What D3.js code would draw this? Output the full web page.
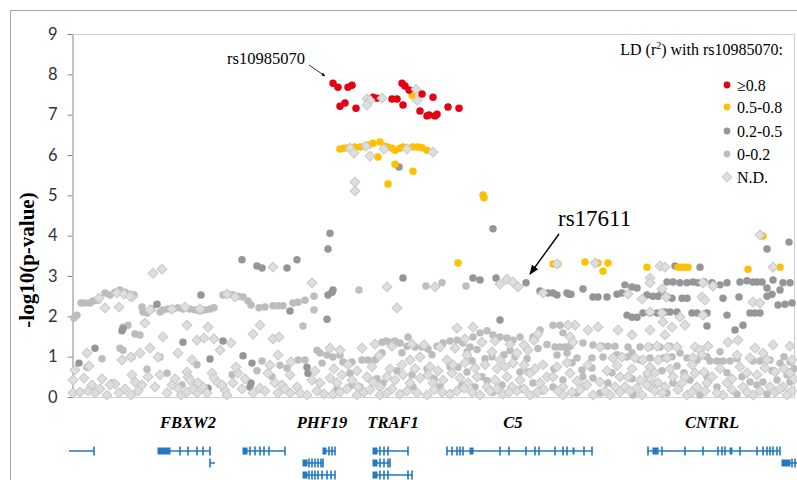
<!DOCTYPE html>
<html><head><meta charset="utf-8">
<script src="https://cdn.jsdelivr.net/npm/d3@7"></script>
<style>body{margin:0;background:#fff}</style>
</head><body>
<svg id="c" width="797" height="480"></svg>
<script>
// positions in kb (relative), values = -log10(p)
const yTicks = [0,1,2,3,4,5,6,7,8,9];
const legendLabels = ["\u22650.8","0.5-0.8","0.2-0.5","0-0.2","N.D."];

const ld08 = [[261,7.78],[266,7.68],[276,7.68],[280,7.73],[301,7.43],[305,7.41],[268,7.21],[273,7.29],[284,7.16],[320,7.39],[325,7.39],[331,7.24],[330,7.78],[333,7.71],[337,7.61],[350,7.51],[361,7.43],[348,7.09],[355,6.97],[357,6.99],[363,6.97],[365,7.01],[376,7.19],[387,7.16]];

const ld0508 = [[268,6.15],[272,6.17],[276,6.18],[281,6.16],[283,6.20],[288,6.20],[293,6.22],[297,6.25],[301,6.29],[308,6.32],[313,6.22],[316,6.19],[320,6.17],[323,6.12],[328,6.17],[331,6.20],[335,6.18],[341,6.20],[346,6.20],[350,6.18],[355,6.12],[306,5.95],[323,5.77],[341,5.60],[316,5.28],[340,7.48],[411,5.01],[412,4.94],[386,3.32],[481,3.30],[486,3.30],[513,3.35],[526,3.32],[531,3.12],[536,3.32],[575,3.22],[606,3.22],[610,3.22],[613,3.22],[616,3.22],[676,3.17],[708,3.22],[691,3.99]];

const ld0205 = [[327,5.70],[258,4.06],[256,3.67],[421,4.17],[170,3.40],[185,3.25],[190,3.20],[215,3.20],[225,3.40],[331,2.95],[401,2.95],[408,2.90],[424,2.95],[454,2.83],[129,2.53],[218,2.13],[85,2.30],[50,1.64],[51,1.69],[23,1.21],[138,0.94],[151,1.39],[111,1.36],[171,1.02],[180,0.84],[179,0.35],[178,0.25],[136,0.22],[7,0.84],[235,0.74],[236,0.59],[255,1.93],[428,1.91],[256,2.53],[260,2.60],[261,2.65],[468,2.63],[476,2.58],[481,2.58],[485,2.53],[495,2.58],[497,2.55],[499,2.55],[511,2.68],[521,2.48],[526,2.48],[535,2.48],[545,2.55],[550,2.58],[553,2.78],[560,2.73],[565,2.70],[575,2.53],[581,2.50],[586,2.50],[595,2.85],[601,2.85],[608,2.83],[615,2.83],[621,2.85],[626,2.83],[595,2.48],[600,2.45],[610,2.45],[615,2.45],[628,3.22],[603,3.25],[648,2.78],[655,2.83],[668,2.85],[681,2.85],[685,2.85],[701,2.90],[711,2.83],[718,2.83],[695,2.70],[700,2.55],[708,2.65],[651,2.45],[667,2.48],[695,2.50],[706,2.28],[713,2.30],[720,2.33],[717,3.84],[695,3.67],[555,2.03],[560,1.98],[565,1.98],[571,2.08],[578,2.08],[585,2.08],[593,2.11],[598,2.11],[605,2.11],[620,2.08],[625,2.08],[635,2.08],[655,2.03],[678,2.08],[683,2.08],[688,2.08],[635,1.76],[663,1.66],[671,1.78],[590,2.60],[632,2.85],[640,2.83],[675,2.88],[690,2.85]];

const ld002 = [[2,1.96],[5,2.03],[9,2.33],[13,2.33],[18,2.33],[21,2.38],[26,2.40],[33,2.58],[38,2.53],[43,2.60],[48,2.65],[53,2.60],[58,2.55],[62,2.53],[70,2.23],[71,2.11],[75,2.08],[80,2.18],[88,2.11],[91,2.16],[96,2.18],[101,2.18],[106,2.21],[111,2.18],[118,2.18],[123,2.16],[128,2.13],[133,2.16],[138,2.18],[142,2.21],[151,2.53],[156,2.55],[161,2.53],[166,2.50],[171,2.48],[176,2.38],[179,2.28],[187,2.21],[193,2.23],[201,2.26],[206,2.26],[211,2.26],[221,2.33],[226,2.35],[233,2.40],[242,2.50],[242,2.16],[287,2.65],[354,2.75],[370,2.83],[394,2.75],
[51,1.73],[56,1.78],[63,1.56],[68,1.54],[48,1.21],[51,1.16],[60,0.99],[15,0.74],[75,0.69],[95,0.59],[88,0.99],[190,0.89],[208,0.79],[215,0.72],[226,0.92],[231,1.76],
[336,1.49],[310,1.09],[290,0.92],[296,0.92],[303,0.92],[250,0.84],[278,0.59],[386,0.74],[410,0.50],[456,0.62],
[310,1.36],[314,1.39],[318,1.36],[323,1.39],[328,1.34],[335,1.26],[343,1.24],[350,1.24],[356,1.19],[365,1.26],[371,1.34],[378,1.39],[385,1.41],[391,1.34],[398,1.24],[408,1.59],[415,1.64],[421,1.54],[428,1.49],[435,1.46],[441,1.41],[448,1.49],[461,1.49],[468,1.66],[401,1.49],[245,1.16],[248,1.09],[255,1.04],[261,0.99],[268,1.04],[271,0.87],[280,0.87],[233,0.92],
[288,0.25],[311,0.35],[341,0.25],[368,0.25],[395,0.62],[403,0.25],[421,0.12],[448,0.62],[461,0.35],
[481,1.78],[488,1.78],[491,1.59],[483,1.24],[488,1.24],[493,1.24],[498,1.26],[511,1.34],[521,1.29],[530,1.26],[536,1.26],[543,1.26],[556,1.24],[568,1.24],[578,1.24],[588,1.24],[598,1.26],[608,1.09],[615,0.97],[625,0.92],[638,0.89],[645,0.89],[651,0.89],[658,0.89],[648,1.12],[485,1.04],[495,1.09],[505,0.97],[520,0.97],[531,0.99],[555,0.99],[568,0.92],[578,0.97],[591,0.97],[605,0.77],[681,0.89],[688,0.89],[698,0.92],[708,0.84],[718,0.87],[510,0.67],[520,0.72],[511,0.50],[521,0.47],[491,0.42],[536,0.35],[585,0.35],[601,0.35],[618,0.42],[645,0.25],[678,0.37],[691,0.37],[705,0.42],[718,0.37],[481,0.25],[505,0.10],[528,0.10],[561,0.05],[595,0.10],[628,0.05],[665,0.07],[695,0.07],
[420,1.00],[432,1.05],[443,1.00],[455,0.95],[413,0.95],[400,0.90],[378,0.75],[355,0.70],[325,0.65],[305,0.45],[280,0.30],[265,0.20],[340,0.55],[362,0.45],[390,0.30],[415,0.40],[430,0.30],[450,0.20],[470,0.15],[482,0.70],[500,0.85],[540,0.60],[560,0.45],[575,0.55],[590,0.65],[612,0.60],[635,0.50],[655,0.60],[670,0.50],[685,0.30],[700,0.65],[715,0.55],[722,0.70],[40,0.35],[110,0.30],[160,0.55],[185,0.65],[200,0.50],[125,0.80],[30,0.95],[395,1.12],[405,1.18],[438,1.15],[466,1.20],[475,1.30],[330,1.10],[360,1.05],[545,1.05],[560,1.10],[600,1.00],[635,1.00],[665,0.95],[712,1.00]];

const ldND = [[295,7.39],[298,7.36],[295,7.24],[310,7.41],[344,7.63],[345,7.36],[278,6.17],[282,6.05],[294,6.22],[298,5.97],[312,6.15],[335,6.15],[361,6.07],[283,5.33],[283,5.11],
[81,3.07],[90,3.17],[201,3.22],[33,2.21],[47,2.23],[60,2.48],[45,2.58],[52,2.55],[27,2.45],[58,2.50],[78,2.16],[100,2.18],[113,2.23],[128,2.18],[155,2.55],[163,2.48],[73,1.83],[115,1.78],[136,1.73],[125,1.41],[132,1.46],[142,1.44],[91,1.49],[78,1.21],[50,0.92],[59,0.99],[68,1.09],[86,0.99],[106,1.09],[120,0.92],[148,1.16],[159,1.34],[181,1.56],[188,1.78],[201,1.44],[207,1.49],[206,1.04],[198,0.79],[219,0.87],[15,1.09],[17,0.77],[1,0.42],[3,0.67],[12,0.47],[43,0.32],[60,0.55],[63,0.37],[76,0.50],[88,0.55],[115,0.62],[116,0.50],[118,0.42],[140,0.59],[142,0.47],[146,0.35],[161,0.35],[166,0.59],[164,0.74],[196,0.59],[203,0.35],[218,0.55],[225,0.25],[131,0.25],
[1,0.10],[8,0.12],[16,0.15],[23,0.10],[38,0.30],[47,0.10],[59,0.05],[95,0.10],[106,0.22],[109,0.05],[115,0.12],[125,0.10],[135,0.10],[153,0.17],[155,0.05],[181,0.10],[188,0.22],[206,0.10],[218,0.10],[35,0.05],
[240,2.83],[315,2.73],[325,2.21],[363,2.73],[435,2.92],[441,2.85],[446,2.73],[428,2.80],[471,2.58],[385,1.71],[401,1.73],[240,0.42],[248,0.35],[258,0.47],[265,0.35],[270,0.55],[280,0.42],[286,0.25],[295,0.50],[301,0.37],[308,0.25],[315,0.50],[323,0.42],[331,0.55],[338,0.35],[348,0.47],[356,0.55],[361,0.35],[371,0.42],[380,0.59],[388,0.47],[396,0.35],[405,0.50],[415,0.25],[423,0.42],[435,0.50],[440,0.25],[448,0.42],[458,0.59],[468,0.35],[475,0.50],[428,0.92],[441,0.84],[338,0.92],[348,0.99],[375,0.92],[235,0.05],[261,0.07],[285,0.05],[308,0.05],[328,0.07],[355,0.05],[378,0.07],[408,0.05],[431,0.07],[458,0.05],
[258,1.21],[268,1.16],[290,1.21],[303,1.31],[320,1.26],[340,1.31],[352,1.29],[368,1.24],[383,1.21],[393,1.44],[410,1.36],[423,1.39],[438,1.31],[452,1.29],[462,1.41],[466,1.56],[445,1.09],[456,1.16],[420,1.12],[395,1.04],[307,1.02],
[485,3.30],[523,3.32],[688,4.02],[578,2.95],[588,3.25],[593,3.22],[701,3.22],[631,2.83],[641,2.75],[578,2.83],[556,2.55],[570,2.43],[590,2.68],[594,2.48],[630,2.48],[633,2.40],[681,2.35],[688,2.33],[578,2.11],[631,2.03],[590,2.08],[608,1.98],[613,1.78],[600,1.73],[591,1.86],[593,1.54],[578,1.66],[560,1.54],[546,1.66],[526,1.73],[503,1.78],[496,1.78],[498,1.49],[501,1.36],[516,1.66],[528,1.24],[576,1.24],[585,1.26],[596,1.24],[605,1.24],[623,1.24],[628,1.16],[636,1.26],[630,1.04],[621,0.97],[656,1.36],[666,1.41],[683,1.21],[691,1.09],[701,1.29],[718,1.26],[720,0.92],[695,0.92],[678,0.97],[665,1.04],[541,0.97],[550,0.99],[563,0.97],[571,0.92],[586,0.92],[595,0.97],[578,0.74],[576,0.59],[578,0.42],[578,0.25],[498,0.59],[491,0.25],[511,0.25],[528,0.37],[548,0.50],[556,0.50],[543,0.25],[553,0.25],[568,0.42],[586,0.35],[593,0.25],[601,0.50],[613,0.50],[623,0.59],[625,0.25],[635,0.35],[640,0.50],[655,0.35],[671,0.25],[685,0.55],[698,0.25],[711,0.25],[718,0.59],[481,0.50],[570,0.05],[615,0.05],[651,0.05],[681,0.05],[715,0.05],[491,0.05],[521,0.05],[538,0.05],
[245,0.15],[252,0.08],[268,0.12],[275,0.20],[292,0.12],[298,0.18],[315,0.10],[320,0.20],[335,0.15],[345,0.10],[362,0.18],[370,0.12],[385,0.15],[392,0.22],[400,0.12],[418,0.15],[425,0.20],[437,0.12],[445,0.15],[452,0.20],[465,0.12],[472,0.18],[486,0.15],[500,0.12],[508,0.18],[515,0.30],[533,0.15],[548,0.12],[558,0.15],[565,0.22],[583,0.15],[590,0.10],[606,0.18],[620,0.12],[633,0.15],[645,0.10],[660,0.18],[675,0.12],[688,0.15],[703,0.12],[708,0.20],[720,0.15],
[485,0.75],[495,0.85],[505,0.40],[516,0.80],[535,0.65],[545,0.78],[560,0.70],[575,0.30],[583,0.60],[598,0.70],[610,0.35],[620,0.80],[632,0.62],[648,0.70],[660,0.45],[668,0.75],[675,0.60],[693,0.72],[703,0.62],[712,0.70],[722,0.45],
[20,0.30],[28,0.20],[30,0.45],[53,0.20],[66,0.15],[70,0.30],[83,0.25],[100,0.30],[103,0.45],[121,0.20],[126,0.35],[150,0.30],[170,0.20],[173,0.45],[193,0.15],[210,0.30],[213,0.20],[228,0.10],
[243,0.65],[262,0.70],[276,0.80],[285,0.65],[300,0.75],[318,0.70],[330,0.80],[343,0.70],[358,0.75],[366,0.65],[381,0.80],[393,0.85],[403,0.72],[413,0.80],[425,0.70],[433,0.75],[452,0.80],[463,0.70],[471,0.80]];

// gene models: [start,end], row, thick blocks, exon ticks
const genes = [
  {s:-3,e:22,row:0,blocks:[],ticks:[22]},
  {s:86,e:138,row:0,blocks:[[86,98]],ticks:[108,116,125,131,138]},
  {s:138,e:143,row:1,blocks:[],ticks:[138]},
  {s:171,e:213,row:0,blocks:[[171,175]],ticks:[178,183,188,192,197,213]},
  {s:251,e:263,row:0,blocks:[[251,254]],ticks:[257,260,263]},
  {s:231,e:251,row:1,blocks:[[231,235]],ticks:[237,240,243,246,249,251]},
  {s:231,e:263,row:2,blocks:[[231,235]],ticks:[237,240,243,246,250,255,259,263]},
  {s:301,e:336,row:0,blocks:[[301,305]],ticks:[308,312,316,336]},
  {s:301,e:318,row:1,blocks:[[301,305]],ticks:[308,312,316,318]},
  {s:301,e:340,row:2,blocks:[[301,305]],ticks:[308,312,316,336,340]},
  {s:375,e:520,row:0,blocks:[[398,401],[501,502]],ticks:[375,380,385,388,391,428,437,454,463,467,483,491,495,512,520]},
  {s:576,e:708,row:0,blocks:[[581,586],[658,660]],ticks:[576,590,613,631,646,650,653,668,685,691,695,698,701,705,708]},
  {s:710,e:730,row:1,blocks:[[710,718]],ticks:[720,723]}
];
const geneNames = ["FBXW2","PHF19","TRAF1","C5","CNTRL"];
const geneLabelPos = [116,250,321,441,640];

const svg = d3.select('#c');
const x = d3.scaleLinear().domain([0,723]).range([72,795]);
const y = d3.scaleLinear().domain([0,9]).range([397,34]);
const rowY = d3.scaleOrdinal().domain([0,1,2]).range([451,463,475]);

// outer frame
svg.append('path').attr('d','M10.5,480 V10.5 H797').attr('fill','none').attr('stroke','#a6a6a6').attr('stroke-width',1);
// plot area border (top, right, bottom)
svg.append('path').attr('d',`M${x(0)},${y(9)+0.5} H${x(723)-0.5} V${y(0)+0.5} H${x(0)}`)
  .attr('fill','none').attr('stroke','#d0d0d0').attr('stroke-width',1.2);

// y axis
const yAxis = d3.axisLeft(y).tickValues(yTicks).tickSize(5).tickSizeOuter(0).tickPadding(10);
const gy = svg.append('g').attr('transform',`translate(${x(0)+0.5},0)`).call(yAxis);
gy.selectAll('path,line').attr('stroke','#868686').attr('stroke-width',1);
gy.selectAll('text').attr('font-family','Lato, "Open Sans", sans-serif').attr('font-size',16.5).attr('fill','#333');

svg.append('text').attr('transform','translate(34,260) rotate(-90)')
  .attr('text-anchor','middle').attr('font-family','"Liberation Serif", serif').attr('font-weight','bold')
  .attr('font-size',21).attr('fill','#000').text('-log10(p-value)');

// markers
const circ = d3.symbol().type(d3.symbolCircle).size(44);
const sq = d3.symbol().type(d3.symbolSquare).size(48);
function dots(data, fill){
  svg.append('g').selectAll('path').data(data).join('path')
    .attr('d',circ).attr('transform',d=>`translate(${x(d[0])},${y(d[1])})`).attr('fill',fill);
}
dots(ld002,'#bdbdbd');
dots(ld0205,'#969696');
dots(ld0508,'#ffc000');
dots(ld08,'#e60012');
svg.append('g').selectAll('path').data(ldND).join('path')
  .attr('d',sq).attr('transform',d=>`translate(${x(d[0])},${y(d[1])}) rotate(45)`)
  .attr('fill','#dedede').attr('stroke','#c8c8c8').attr('stroke-width',1);

// legend
const lg = svg.append('g');
const tx = lg.append('text').attr('x',783).attr('y',55).attr('text-anchor','end')
  .attr('font-family','"Liberation Serif", serif').attr('font-size',16).attr('fill','#000');
tx.append('tspan').text('LD (r');
tx.append('tspan').attr('font-size',10).attr('dy',-6).text('2');
tx.append('tspan').attr('dy',6).text(') with rs10985070:');
const legY = [85,107,131,154,177];
const legFill = ['#e60012','#ffc000','#969696','#bdbdbd'];
legendLabels.forEach((lab,i)=>{
  if(i<4){
    lg.append('path').attr('d',d3.symbol().type(d3.symbolCircle).size(36)).attr('transform',`translate(727,${legY[i]})`).attr('fill',legFill[i]);
  } else {
    lg.append('path').attr('d',d3.symbol().type(d3.symbolSquare).size(44)).attr('transform',`translate(727,${legY[i]}) rotate(45)`).attr('fill','#dedede').attr('stroke','#c8c8c8');
  }
  lg.append('text').attr('x',737).attr('y',legY[i]+5.5).attr('font-family','"Liberation Serif", serif').attr('font-size',16).attr('fill','#000').text(lab);
});

// annotations
const defs = svg.append('defs');
defs.append('marker').attr('id','ah1').attr('viewBox','0 0 10 10').attr('refX',9).attr('refY',5)
  .attr('markerWidth',5).attr('markerHeight',5).attr('orient','auto')
  .append('path').attr('d','M0,1 L10,5 L0,9 Z').attr('fill','#000');
defs.append('marker').attr('id','ah2').attr('viewBox','0 0 10 10').attr('refX',9).attr('refY',5)
  .attr('markerWidth',7).attr('markerHeight',7).attr('orient','auto')
  .append('path').attr('d','M0,1 L10,5 L0,9 Z').attr('fill','#000');
svg.append('text').attr('x',227).attr('y',64).attr('font-family','"Liberation Serif", serif').attr('font-size',16.5).attr('fill','#000').text('rs10985070');
svg.append('line').attr('x1',309).attr('y1',65).attr('x2',325).attr('y2',76).attr('stroke','#000').attr('stroke-width',0.8).attr('marker-end','url(#ah1)');
svg.append('text').attr('x',558).attr('y',226).attr('font-family','"Liberation Serif", serif').attr('font-size',23).attr('fill','#000').text('rs17611');
svg.append('line').attr('x1',559).attr('y1',234).attr('x2',530).attr('y2',274).attr('stroke','#000').attr('stroke-width',1.4).attr('marker-end','url(#ah2)');

// gene track
const gc = '#2478be';
const gg = svg.append('g');
genes.forEach(g=>{
  const yy = rowY(g.row);
  gg.append('line').attr('x1',x(g.s)).attr('x2',x(g.e)).attr('y1',yy).attr('y2',yy).attr('stroke',gc).attr('stroke-width',1.5);
  g.blocks.forEach(b=>{
    gg.append('rect').attr('x',x(b[0])-0.5).attr('y',yy-3.5).attr('width',x(b[1])-x(b[0])+1).attr('height',7).attr('fill',gc);
  });
  g.ticks.forEach(t=>{
    gg.append('rect').attr('x',x(t)-0.8).attr('y',yy-4.5).attr('width',1.6).attr('height',9).attr('fill',gc);
  });
});
geneNames.forEach((n,i)=>{
  svg.append('text').attr('x',x(geneLabelPos[i])).attr('y',428).attr('text-anchor','middle')
    .attr('font-family','"Liberation Serif", serif').attr('font-weight','bold').attr('font-style','italic')
    .attr('font-size',16.5).attr('fill','#000').text(n);
});
</script>
</body></html>
